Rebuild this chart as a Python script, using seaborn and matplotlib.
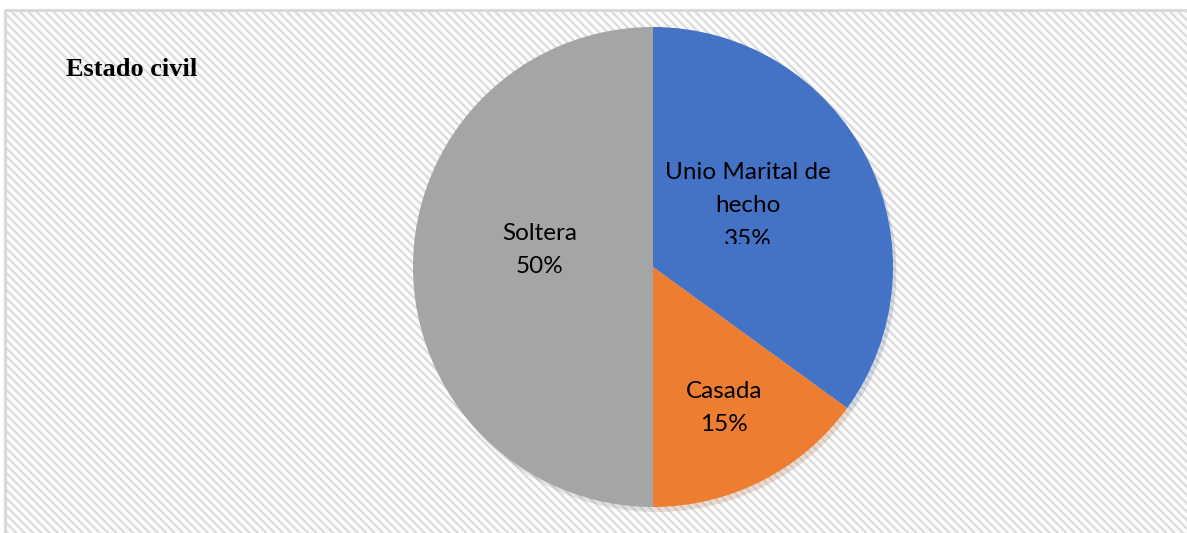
import matplotlib
matplotlib.use("Agg")
import matplotlib.pyplot as plt
import seaborn as sns
from matplotlib.patches import Rectangle
from matplotlib.transforms import Bbox, TransformedBbox

categories = ["Unio Marital de\nhecho", "Casada", "Soltera"]
values = [35, 15, 50]
colors = ["#4472C4", "#ED7D31", "#A5A5A5"]
title = "Estado civil"

sns.set_theme(style="white")
plt.rcParams["font.family"] = ["Lato", "DejaVu Sans"]
plt.rcParams["hatch.color"] = "#f3f3f3"
plt.rcParams["hatch.linewidth"] = 1.5

W, H = 1187, 533
fig = plt.figure(figsize=(W / 100, H / 100), dpi=100)
fig.patch.set_facecolor("white")

# background panel with subtle diagonal texture
bg = Rectangle((5 / W, -0.05), 1.1, (H - 10) / H + 0.05, transform=fig.transFigure,
               facecolor="#fbfbfb", edgecolor="#dadada", linewidth=2.2,
               hatch="\\\\\\\\", zorder=-5)
fig.patches.append(bg)

cx, cy, r = 653, 267, 240
ax = fig.add_axes([(cx - r) / W, (H - cy - r) / H, 2 * r / W, 2 * r / H])
ax.set_facecolor("none")
ax.set_zorder(2)

labels = [f"{c}\n{v}%" for c, v in zip(categories, values)]
wedges, texts = ax.pie(values, colors=colors, startangle=90, counterclock=False,
                       labels=labels, labeldistance=0.5,
                       textprops=dict(fontsize=17.5, color="black", ha="center",
                                      va="center", linespacing=1.72),
                       shadow=dict(ox=0.01, oy=-0.015, shade=0.3, alpha=0.18),
                       wedgeprops=dict(linewidth=0))
ax.set_xlim(-1, 1)
ax.set_ylim(-1, 1)
ax.set_aspect("equal")

# label positions (pixel offsets from pie centre, as in the reference layout)
offsets = [(95, -61), (71, 141), (-113, -17)]
for t, (dx, dy) in zip(texts, offsets):
    t.set_position((dx / r, -dy / r))
    t.set_horizontalalignment("center")

# the first label is cut off at its lower part in the reference
clipbox = TransformedBbox(Bbox([[0, (H - 244) / H], [1, 1]]), fig.transFigure)
texts[0].set_clip_path(None)
texts[0].set_clip_box(clipbox)
texts[0].set_clip_on(True)

fig.text(66 / W, (H - 70) / H, title, fontsize=19, fontweight="bold",
         family="Liberation Serif", color="black", ha="left", va="center")

fig.savefig("out.png", dpi=100, facecolor="white")
